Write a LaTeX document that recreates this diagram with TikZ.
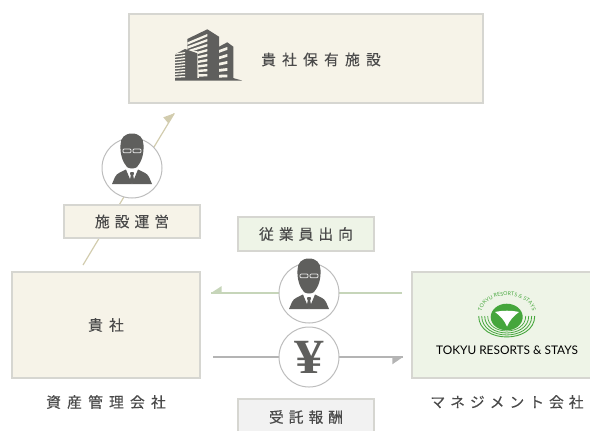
\documentclass[tikz,border=0pt]{standalone}
\usepackage{fontspec}
\setmainfont{Noto Sans CJK JP}
\newfontfamily\lblfont[LetterSpace=34,FakeBold=0.25]{Noto Sans CJK JP}
\newfontfamily\capfont[LetterSpace=42,FakeBold=0.25]{Noto Sans CJK JP}
\newfontfamily\kanafont[LetterSpace=34,FakeBold=0.25]{Noto Sans CJK JP}
\newfontfamily\yenfont[FakeStretch=1.2]{Liberation Serif}
\newfontfamily\logofont{Lato}
\usetikzlibrary{decorations.text}
\definecolor{creamfill}{HTML}{F6F3E8}
\definecolor{greenfill}{HTML}{EEF4E7}
\definecolor{grayfill}{HTML}{F2F2F2}
\definecolor{boxedge}{HTML}{D6D6D1}
\definecolor{beigeline}{HTML}{D2CCAE}
\definecolor{greenline}{HTML}{C6D5B9}
\definecolor{grayline}{HTML}{B4B4B4}
\definecolor{icon}{HTML}{5F5F5D}
\definecolor{txt}{HTML}{4A4A4A}
\definecolor{circedge}{HTML}{BDBDBD}
\definecolor{logogreen}{HTML}{45A63C}
\tikzset{
  x=0.02cm,y=-0.02cm,
  box/.style={draw=boxedge,line width=1.2*0.02cm,inner sep=0pt,text=txt,font=\lblfont\fontsize{8.4pt}{10pt}\selectfont},
  cream/.style={box,fill=creamfill},
  greenbox/.style={box,fill=greenfill},
  graybox/.style={box,fill=grayfill},
  capt/.style={text=txt,inner sep=0pt,font=\capfont\fontsize{8.4pt}{10pt}\selectfont},
  ring/.style={circle,draw=circedge,fill=white,line width=1*0.02cm,minimum size=60*0.02cm,inner sep=0pt},
  conn/.style={line width=1.2*0.02cm},
  pics/person/.style={code={
    \fill[icon] (0,-34.5) .. controls (7.5,-34.5) and (11.5,-30) .. (11.5,-23)
      .. controls (12,-14) and (9.5,-6) .. (5,-1) .. controls (3,1) and (-3,1) .. (-5,-1)
      .. controls (-9.5,-6) and (-12,-14) .. (-11.5,-23) .. controls (-11.5,-30) and (-7.5,-34.5) .. (0,-34.5) -- cycle;
    \fill[icon] (-20,16) -- (-17,9) .. controls (-15,5) and (-11,4) .. (-6,1.5) -- (0,16) -- (6,1.5)
      .. controls (11,4) and (15,5) .. (17,9) -- (20,16) -- cycle;
    \fill[icon] (-1.5,4) -- (1.5,4) -- (2,6) -- (1.2,7) -- (2.2,13) -- (0,16) -- (-2.2,13) -- (-1.2,7) -- (-2,6) -- cycle;
    \draw[white!85!icon,line width=0.8*0.02cm,rounded corners=0.6pt] (-9,-19) rectangle (-1,-15.2);
    \draw[white!85!icon,line width=0.8*0.02cm,rounded corners=0.6pt] (1,-19) rectangle (9,-15.2);
  }}
}
\begin{document}
\begin{tikzpicture}
\useasboundingbox (0,0) rectangle (590,430);
% connector ends
\coordinate (fromCo) at (83,265);
\coordinate (toHotel) at (174.3,113.3);
\coordinate (bar1) at (163.3,117.3);
\coordinate (bar2) at (168,123);
\coordinate (mgmtOut) at (402,293);
\coordinate (staffTip) at (211,293);
\coordinate (payOut) at (213,357);
\coordinate (payTip) at (403,357);
% connectors
\draw[beigeline,conn] (fromCo) -- (toHotel);
\fill[beigeline] (toHotel) -- (bar1) -- (bar2) -- cycle;
\draw[greenline,conn] (mgmtOut) -- (staffTip);
\fill[greenline] (staffTip) -- (221.7,286) -- (221.7,293.7) -- cycle;
\draw[grayline,conn] (payOut) -- (payTip);
\fill[grayline] (payTip) -- (392.3,357) -- (392.3,364.3) -- cycle;
% boxes
\node[cream,minimum width=354*0.02cm,minimum height=89*0.02cm] (top) at (306,58.5) {};
\node[text=txt,inner sep=0pt,font=\capfont\fontsize{8.4pt}{10pt}\selectfont] (toplabel) at (321,59.5) {貴社保有施設};
\node[cream,minimum width=188*0.02cm,minimum height=106*0.02cm,font=\capfont\fontsize{8.4pt}{10pt}\selectfont] (co) at (106,325) {貴社};
\node[greenbox,minimum width=190*0.02cm,minimum height=106*0.02cm] (mg) at (507,325) {};
\node[cream,minimum width=136*0.02cm,minimum height=33*0.02cm] (ops) at (132,221.5) {施設運営};
\node[greenbox,minimum width=136*0.02cm,minimum height=34*0.02cm] (staff) at (306,234) {従業員出向};
\node[graybox,minimum width=136*0.02cm,minimum height=36*0.02cm] (fee) at (306,417) {受託報酬};
% circles
\node[ring] (p1) at (132,168) {};
\pic at (p1.center) {person};
\node[ring] (p2) at (309,293) {};
\pic at (p2.center) {person};
\node[ring,text=icon,font=\yenfont\bfseries\fontsize{28pt}{28pt}\selectfont] (yen) at (309,357) {¥};
% captions
\node[capt] (c1) at (106,402) {資産管理会社};
\node[capt,font=\kanafont\fontsize{8.4pt}{10pt}\selectfont] (c2) at (507,402) {マネジメント会社};
% building
\fill[icon] (187.3,39) -- (207.3,29.3) -- (219,36.7) -- (219,78) -- (187.3,78) -- cycle;
\begin{scope}
\clip (187.3,39) -- (207.3,29.3) -- (207.3,78) -- (187.3,78) -- cycle;
\foreach \y/\s in {34/8.5,39/7.5,44/6.5,49/5.5,54/4.5,59/3.5,64/2.5,69/1.5,74/0.5}
  \fill[creamfill] (187,\y+\s) -- (207.3,\y) -- (207.3,\y+2.4) -- (187,\y+\s+2.4) -- cycle;
\end{scope}
\fill[icon] (219,46.7) -- (227.3,42.3) -- (233.3,46.7) -- (233.3,78) -- (219,78) -- cycle;
\begin{scope}
\clip (219,46.7) -- (227.3,42.3) -- (227.3,78) -- (219,78) -- cycle;
\foreach \y/\s in {47/3,54/2.5,61/1.8,68/1,74.5/0.3}
  \fill[creamfill] (219,\y+\s) -- (227.3,\y) -- (227.3,\y+2.8) -- (219,\y+\s+2.8) -- cycle;
\end{scope}
\fill[creamfill] (183,51) -- (197.3,51) -- (199,78) -- (183,78) -- cycle;
\fill[icon] (175,54.3) -- (185,49) -- (197.3,53.3) -- (197.3,78) -- (175,78) -- cycle;
\begin{scope}
\clip (175,54.3) -- (185,49) -- (185,78) -- (175,78) -- cycle;
\foreach \y in {52,55,58,61,64,67,70,73,76}
  \fill[creamfill] (175,\y+3.5-\y/25) -- (185,\y) -- (185,\y+1.3) -- (175,\y+4.8-\y/25) -- cycle;
\end{scope}
\fill[icon] (175,78) -- (233,78) -- (242,80.5) -- (175,80.5) -- cycle;
% logo
\fill[logogreen] (506.7,317) ellipse (16 and 13.3);
\fill[white] (495,312) .. controls (502,310.3) and (512,310.3) .. (519,312)
  .. controls (513.5,316) and (509.5,320.5) .. (507,326.5) .. controls (504.5,320.5) and (500.5,316) .. (495,312) -- cycle;
\foreach \rx/\ry/\st in {28/21/0.9,25/19/0.8,22/17/0.8,19/15/0.7}
  \draw[logogreen,line width=\st*0.02cm] (506.7-\rx,316) .. controls (506.7-\rx,316+\ry*1.33) and (506.7+\rx,316+\ry*1.33) .. (506.7+\rx,316);
\path[decorate,decoration={text along path,text align=center,text={|\logofont\fontsize{3pt}{3pt}\selectfont\color{logogreen}|TOKYU RESORTS {\&} STAYS}}]
  (482,310) .. controls (487,291) and (527,291) .. (532,310);
\node[inner sep=0pt,text=black,font=\logofont\fontsize{6.75pt}{9pt}\selectfont] (logotext) at (507,350) {TOKYU RESORTS \& STAYS};
\end{tikzpicture}
\end{document}
